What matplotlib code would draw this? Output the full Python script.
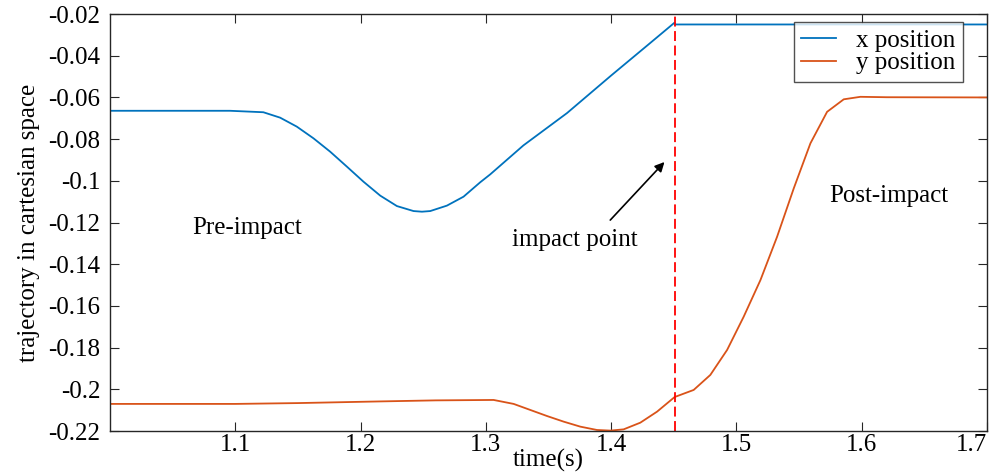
import matplotlib
matplotlib.use("Agg")
import matplotlib.pyplot as plt

plt.rcParams['font.family'] = ['Liberation Serif', 'DejaVu Serif']

# x position (blue)
tx = [1.0, 1.05, 1.0958, 1.1224, 1.1358, 1.1491, 1.1624, 1.1757, 1.1891, 1.2023,
      1.2157, 1.2290, 1.2423, 1.2490, 1.2556, 1.2689, 1.2822, 1.2955, 1.3035,
      1.3300, 1.3648, 1.4000, 1.4300, 1.4505, 1.4515, 1.50, 1.60, 1.70]
x_pos = [-0.0664, -0.0664, -0.0664, -0.0671, -0.0697, -0.0740, -0.0796, -0.0860,
         -0.0932, -0.1004, -0.1071, -0.1121, -0.1145, -0.1148, -0.1145, -0.1119,
         -0.1076, -0.1007, -0.0969, -0.0830, -0.0675, -0.0495, -0.0345, -0.0242,
         -0.0250, -0.0250, -0.0250, -0.0250]

# y position (orange)
ty = [1.0, 1.10, 1.15, 1.2157, 1.26, 1.3062, 1.3222, 1.3355, 1.3488, 1.3621, 1.3754,
      1.3887, 1.3994, 1.4100, 1.4233, 1.4367, 1.4507, 1.4659, 1.4792, 1.4926, 1.5058,
      1.5192, 1.5325, 1.5458, 1.5591, 1.5724, 1.5857, 1.5990, 1.62, 1.70]
y_pos = [-0.207, -0.207, -0.2066, -0.2058, -0.2053, -0.2051, -0.2070, -0.2099, -0.2128,
         -0.2155, -0.2179, -0.2195, -0.2198, -0.2192, -0.2160, -0.2107, -0.2037, -0.2003,
         -0.1931, -0.1811, -0.1652, -0.1476, -0.1268, -0.1036, -0.0820, -0.0669, -0.0609,
         -0.0597, -0.0599, -0.0600]

t_impact = 1.451
xticks = [1.1, 1.2, 1.3, 1.4, 1.5, 1.6, 1.7]
yticks = [-0.22, -0.2, -0.18, -0.16, -0.14, -0.12, -0.1, -0.08, -0.06, -0.04, -0.02]

fig = plt.figure(figsize=(9.92, 4.76), dpi=100)
ax = fig.add_axes([0.1109, 0.0945, 0.884, 0.876])

ax.plot(tx, x_pos, color='#0072BD', lw=1.3, label='x position')
ax.plot(ty, y_pos, color='#D95319', lw=1.3, label='y position')
ax.axvline(t_impact, color='#FF0000', ls=(0, (5.5, 2.5)), lw=1.3)

ax.set_xlim(1.0, 1.7)
ax.set_ylim(-0.22, -0.02)
ax.set_xticks(xticks)
ax.set_xticklabels(['%g' % v for v in xticks])
ax.get_xticklabels()[-1].set_horizontalalignment('right')
ax.set_yticks(yticks)
ax.set_yticklabels(['%g' % v for v in yticks])
ax.tick_params(direction='in', length=6.5, width=0.8, top=True, right=True,
               labelsize=18, color='#262626')
ax.tick_params(axis='y', pad=7)
ax.tick_params(axis='x', pad=2)
for s in ax.spines.values():
    s.set_color('#262626')
    s.set_linewidth(1.0)

ax.set_xlabel('time(s)', fontsize=18, labelpad=-5)
ax.set_ylabel('trajectory in cartesian space', fontsize=18, labelpad=6)

ax.text(1.1094, -0.1227, 'Pre-impact', fontsize=18, ha='center', va='center')
ax.text(1.3714, -0.1285, 'impact point', fontsize=18, ha='center', va='center')
ax.text(1.6214, -0.1074, 'Post-impact', fontsize=18, ha='center', va='center')
ax.annotate('', xy=(1.4441, -0.090), xytext=(1.3978, -0.1198),
            arrowprops=dict(arrowstyle='-|>', color='black', lw=1.2, mutation_scale=14))

leg = ax.legend(loc='upper right', bbox_to_anchor=(0.9726, 0.981), borderaxespad=0,
                fontsize=18, frameon=True, fancybox=False, handlelength=1.4,
                borderpad=0.3, labelspacing=0.0, handletextpad=0.8)
leg.get_frame().set_edgecolor('#262626')
leg.get_frame().set_linewidth(1.0)

fig.savefig('out.png', dpi=100)
